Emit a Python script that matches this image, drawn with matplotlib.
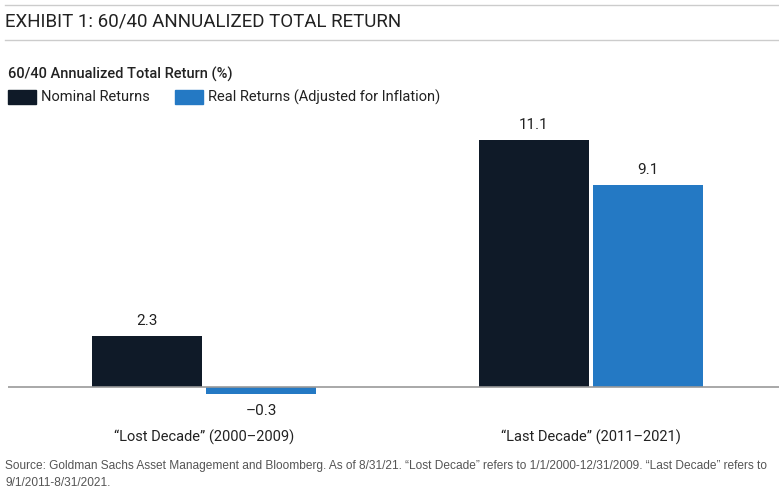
import matplotlib.pyplot as plt
from matplotlib.patches import Rectangle
from matplotlib.lines import Line2D
from matplotlib import font_manager

categories = ['\u201cLost Decade\u201d (2000\u20132009)', '\u201cLast Decade\u201d (2011\u20132021)']
series_names = ['Nominal Returns', 'Real Returns (Adjusted for Inflation)']
nominal = [2.3, 11.1]
real = [-0.3, 9.1]

NAVY = '#0f1a28'
BLUE = '#2479c4'

names = {f.name for f in font_manager.fontManager.ttflist}
narrow = 'Liberation Sans Narrow' if 'Liberation Sans Narrow' in names else 'Roboto'
plt.rcParams['font.family'] = [narrow, 'DejaVu Sans']

W, H = 779, 495
fig = plt.figure(figsize=(W / 100, H / 100), dpi=100)

def fx(px):
    return px / W

def fy(py):
    return 1 - py / H

# header rules and title
fig.add_artist(Line2D([fx(5), fx(779)], [fy(5), fy(5)], color='#cccccc', lw=1))
fig.add_artist(Line2D([fx(5), fx(779)], [fy(40), fy(40)], color='#cccccc', lw=1))
fig.text(fx(5), fy(22), 'EXHIBIT 1: 60/40 ANNUALIZED TOTAL RETURN', fontsize=13.5,
         color='#222222', va='center', ha='left')

fig.text(fx(8), fy(74), '60/40 Annualized Total Return (%)', fontsize=10.5,
         color='#222222', va='center', ha='left', fontweight='medium')

# legend
for x0, name, c in [(8, series_names[0], NAVY), (175, series_names[1], BLUE)]:
    fig.add_artist(Rectangle((fx(x0), fy(104)), fx(28), 14 / H, color=c,
                             transform=fig.transFigure))
    fig.text(fx(x0 + 33), fy(97), name, fontsize=10.5, color='#222222',
             va='center', ha='left')

# plot area: 0 at y=387 px, 22.25 px per unit
ax_top, ax_bot = 110, 400
ax = fig.add_axes([fx(8), fy(ax_bot), fx(779) - fx(8), (ax_bot - ax_top) / H])
ppu = 22.25
ax.set_ylim(-(ax_bot - 387) / ppu, (387 - ax_top) / ppu)
ax.set_xlim(-(204 - 8) / 387, 1 + (779 - 591) / 387)

x = [0, 1]
bw = 110 / 387
off = 57 / 387
b1 = ax.bar([i - off for i in x], nominal, bw, color=NAVY)
b2 = ax.bar([i + off for i in x], real, bw, color=BLUE)
ax.axhline(0, color='#999999', lw=1.2, zorder=3)

for bars, vals in [(b1, nominal), (b2, real)]:
    for r, v in zip(bars, vals):
        cx = r.get_x() + r.get_width() / 2
        if v >= 0:
            ax.annotate(f'{v:.1f}', (cx, v), xytext=(0, 5.5), textcoords='offset points',
                        ha='center', va='bottom', fontsize=11, color='#222222')
        else:
            ax.annotate(f'\u2013{abs(v):.1f}', (cx, v), xytext=(0, -7.5), textcoords='offset points',
                        ha='center', va='top', fontsize=11, color='#222222')

for spine in ax.spines.values():
    spine.set_visible(False)
ax.set_yticks([])
ax.set_xticks([])

for i, lab in zip(x, categories):
    fig.text(fx(204 + 387 * i), fy(437), lab, fontsize=10.5, color='#222222',
             ha='center', va='center')

src = ('Source: Goldman Sachs Asset Management and Bloomberg. As of 8/31/21. '
       '\u201cLost Decade\u201d refers to 1/1/2000-12/31/2009. \u201cLast Decade\u201d refers to\n'
       '9/1/2011-8/31/2021.')
fig.text(fx(5), fy(460), src, fontsize=8.55, color='#555555', ha='left', va='top',
         family=['Liberation Sans', 'DejaVu Sans'], linespacing=1.6)

fig.savefig('out.png', dpi=100)
